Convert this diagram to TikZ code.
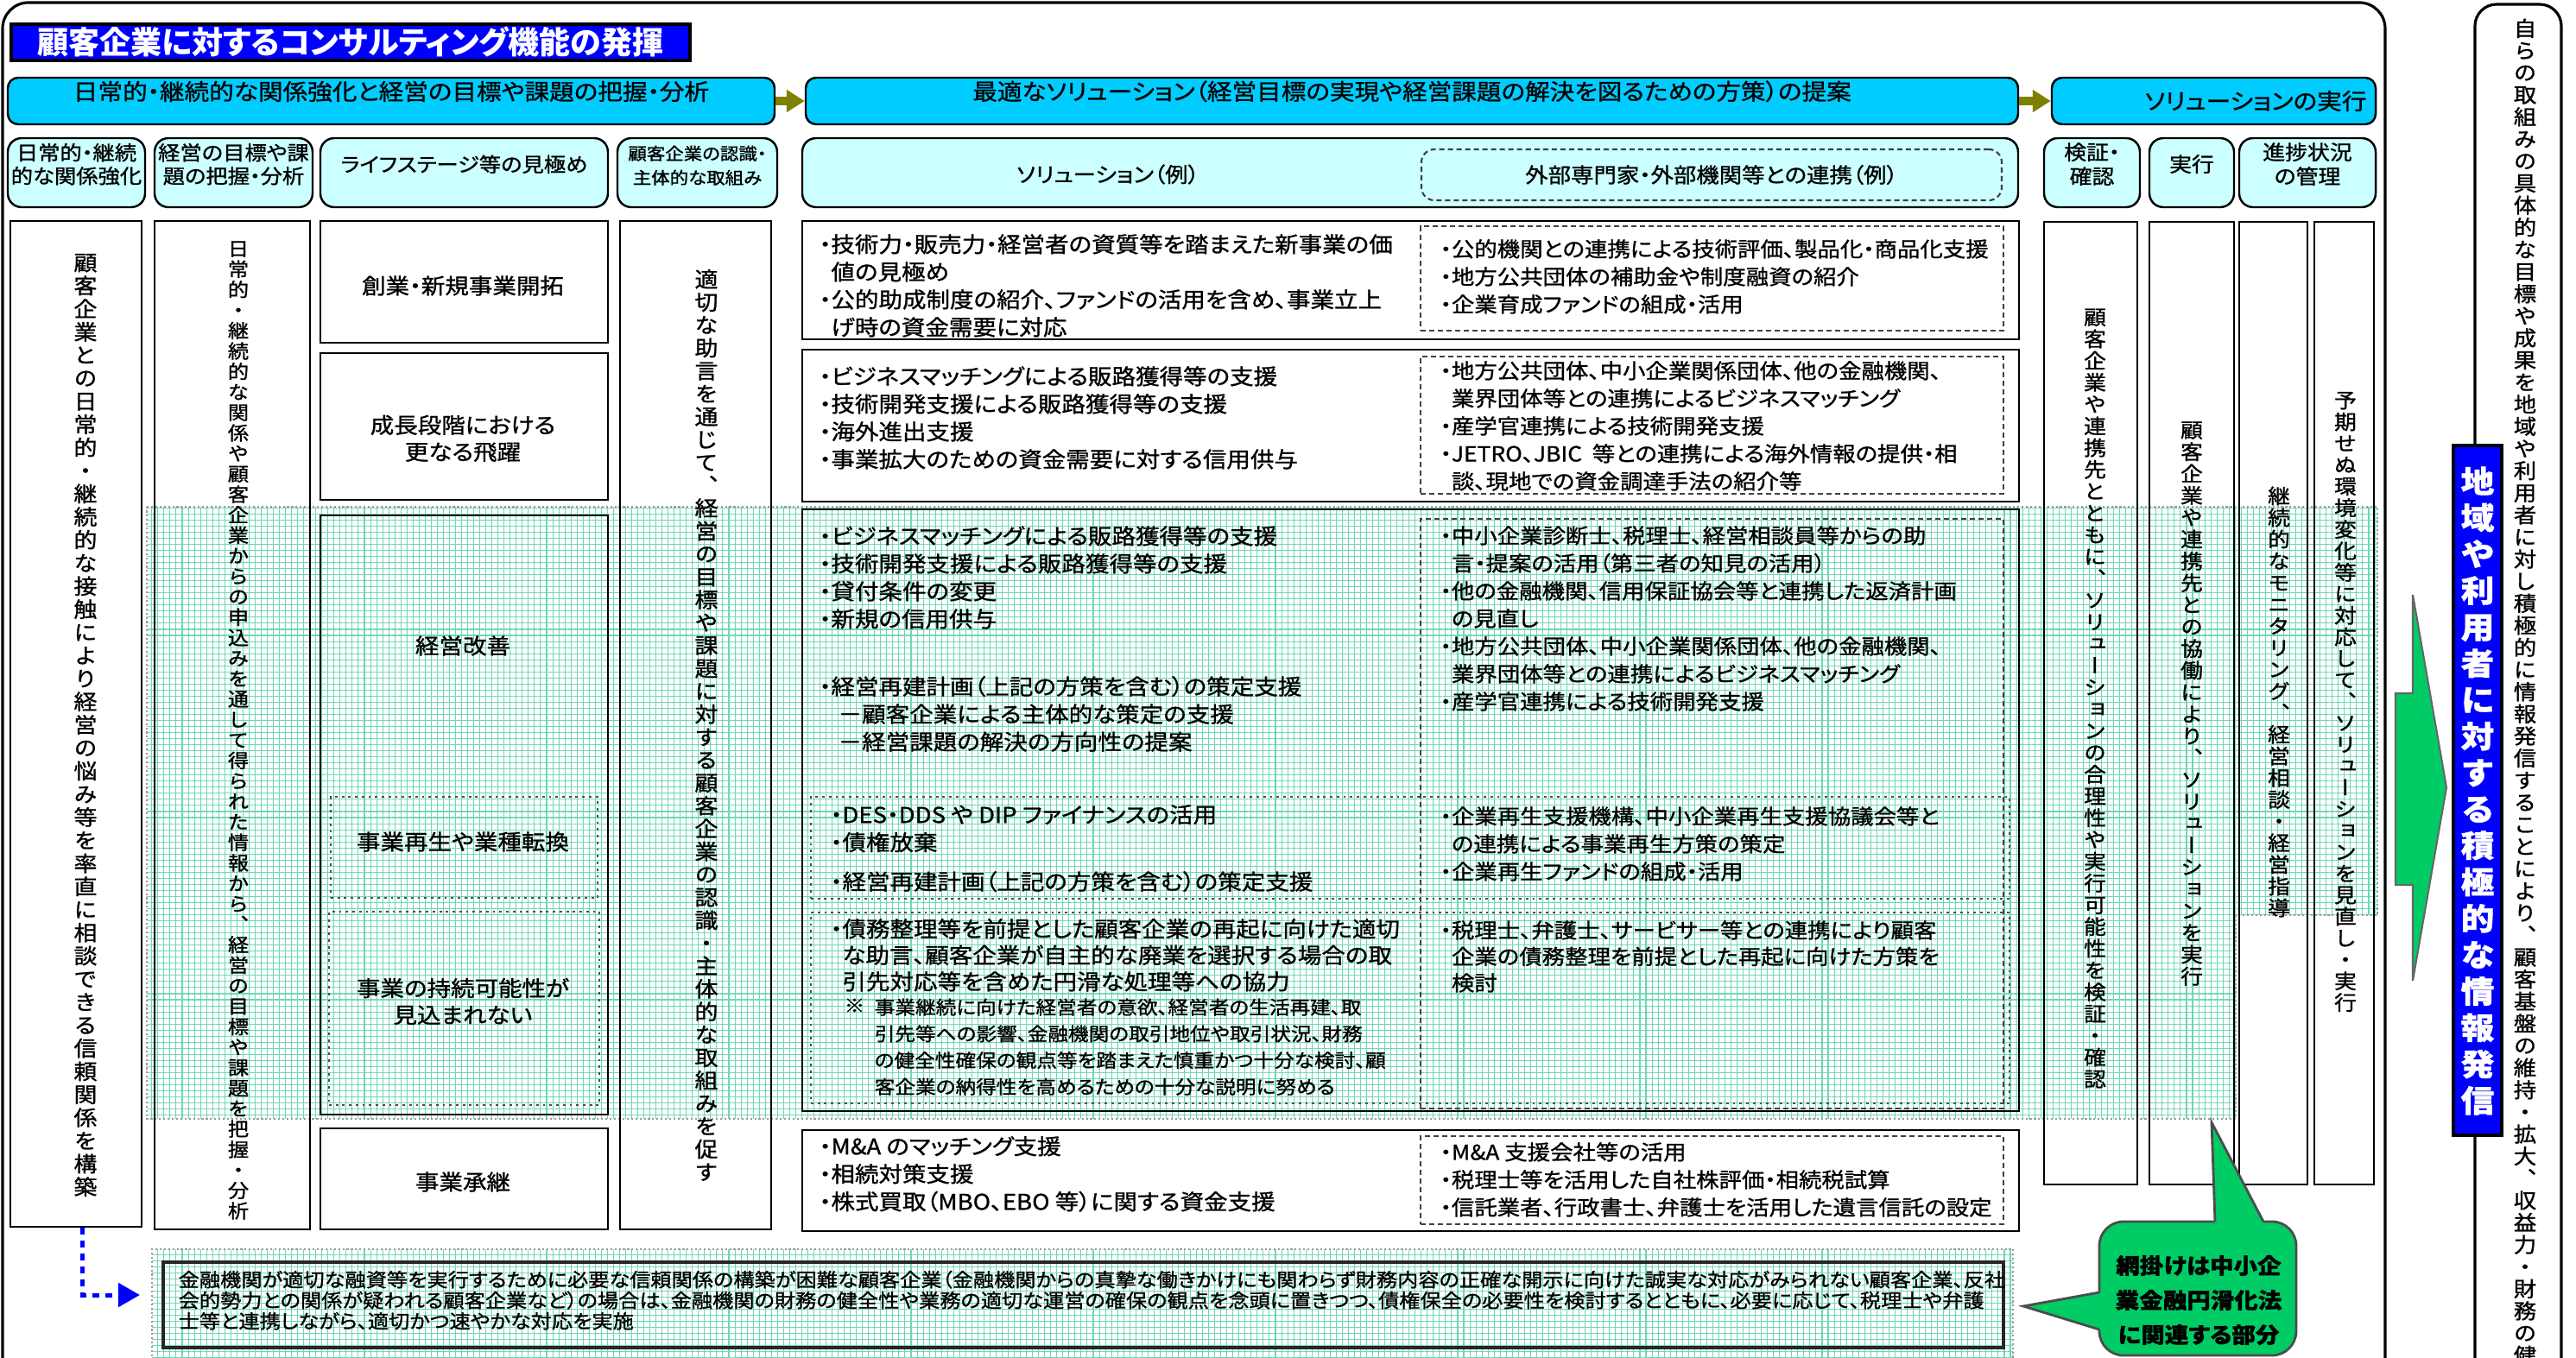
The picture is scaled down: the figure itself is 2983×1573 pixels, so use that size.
\documentclass[tikz,border=0pt]{standalone}
\usepackage{fontspec}
\setmainfont{Noto Sans CJK JP}[RawFeature=+palt,FakeStretch=1.1,FakeBold=1.1]
\newfontfamily\vjp{Noto Sans CJK JP}[RawFeature=+vert,FakeStretch=1.1,FakeBold=1.1]
\newfontfamily\tjp{Noto Sans CJK JP}[RawFeature=+palt]
\usetikzlibrary{arrows.meta,patterns.meta,fit}
\definecolor{cyanH}{RGB}{0,204,255}
\definecolor{cyanL}{RGB}{204,255,255}
\definecolor{blueT}{RGB}{0,0,255}
\definecolor{oliveA}{RGB}{128,128,0}
\definecolor{greenA}{RGB}{0,204,102}
\definecolor{hatchC}{RGB}{110,215,180}
\makeatletter
\def\vstk#1{\vstk@a#1\relax}
\def\vstk@a#1{#1\vstk@b}
\def\vstk@b#1{\ifx\relax#1\expandafter\@gobble\else\expandafter\@firstofone\fi{\\#1\vstk@b}}
\makeatother
\tikzset{
  bx/.style={draw=black, line width=0.8pt, inner sep=0pt},
  hdr/.style={draw=black, line width=0.7pt, fill=cyanH, rounded corners=0.12cm, inner sep=0pt, font={\fontsize{0.26cm}{0.3cm}\selectfont}},
  subh/.style={draw=black, line width=0.7pt, fill=cyanL, rounded corners=0.16cm, inner sep=0pt, align=center, font={\fontsize{0.23cm}{0.27cm}\selectfont}},
  dsh/.style={draw=black!75, line width=0.6pt, dash pattern=on 0.06cm off 0.04cm, inner sep=0pt},
  dtd/.style={draw=black!70, line width=0.6pt, dash pattern=on 0.8pt off 1.4pt, inner sep=0pt},
  txt/.style={inner sep=0pt, align=left, anchor=north west, font={\fontsize{0.25cm}{0.32cm}\selectfont}},
  txte/.style={inner sep=0pt, align=left, anchor=north west, font={\fontsize{0.24cm}{0.32cm}\selectfont}},
  txtb/.style={inner sep=0pt, align=left, anchor=north west, font={\fontsize{0.25cm}{0.305cm}\selectfont}},
  txtbe/.style={inner sep=0pt, align=left, anchor=north west, font={\fontsize{0.24cm}{0.305cm}\selectfont}},
  notet/.style={inner sep=0pt, align=left, anchor=north west, font={\fontsize{0.215cm}{0.307cm}\selectfont}},
  lbl/.style={inner sep=0pt, align=center, font={\fontsize{0.25cm}{0.31cm}\selectfont}},
  vt/.style 2 args={inner sep=0pt, align=center, font={\vjp\fontsize{#1}{#2}\selectfont\lineskiplimit=-10pt\lineskip=0pt}},
  hatchfill/.style={pattern={Hatch[distance=2pt,line width=0.3pt]}, pattern color=hatchC},
  olarr/.style={draw=oliveA, line width=0.1cm, -{Triangle[length=0.21cm,width=0.25cm]}},
  bluedsh/.style={draw=blue, line width=0.05cm, dash pattern=on 0.08cm off 0.07cm, -{Triangle[length=0.25cm,width=0.27cm]}},
}
\begin{document}
\begin{tikzpicture}[x=0.01cm,y=-0.01cm]
\useasboundingbox (0,0) rectangle (2983,1573);
\clip (0,0) rectangle (2983,1573);
\fill[white] (0,0) rectangle (2983,1573);

% hatched areas
\path[hatchfill] (170,587) -- (2753,587) -- (2753,1060) -- (2589,1060) -- (2589,1296) -- (170,1296) -- cycle;
\draw[black!40, line width=0.3pt, dash pattern=on 0.6pt off 0.8pt] (170,587) -- (2753,587) -- (2753,1060) -- (2589,1060) -- (2589,1296) -- (170,1296) -- cycle;
\path[hatchfill] (176,1447) rectangle (2331,1640);
\draw[black!40, line width=0.3pt, dash pattern=on 0.6pt off 0.8pt] (176,1640) -- (176,1447) -- (2331,1447) -- (2331,1640);

% outer frames
\draw[line width=0.9pt, rounded corners=0.3cm] (3,1650) -- (3,3) -- (2762,3) -- (2762,1650);
\draw[line width=0.9pt, rounded corners=0.25cm] (2866,1650) -- (2866,5) -- (2966,5) -- (2966,1650);

% title
\node[fill=blueT, draw=black, line width=1.2pt, inner sep=0pt, fit={(13,28)(799,70)}] (title) {};
\node[anchor=base, inner sep=0pt, text=white, font={\tjp\bfseries\fontsize{0.36cm}{0.4cm}\selectfont}] (titlet) at (406,62.5) {顧客企業に対するコンサルティング機能の発揮};

% headers
\node[hdr, fit={(9,90)(897,144)}] (h1) {日常的・継続的な関係強化と経営の目標や課題の把握・分析};
\node[hdr, fit={(933,90)(2337,144)}] (h2) {最適なソリューション（経営目標の実現や経営課題の解決を図るための方策）の提案};
\node[hdr, fit={(2376,90)(2751,144)}] (h3) {};
\node[inner sep=0pt, font={\fontsize{0.26cm}{0.3cm}\selectfont}] (h3t) at (2612,117) {ソリューションの実行};
\draw[olarr] (h1.east) -- (h2.west);
\draw[olarr] (h2.east) -- (h3.west);

% sub headers
\node[subh, fit={(9,160)(168,240)}] (sh1) {日常的・継続\\的な関係強化};
\node[subh, fit={(179,160)(362,240)}] (sh2) {経営の目標や課\\題の把握・分析};
\node[subh, fit={(371,160)(704,240)}] (sh3) {ライフステージ等の見極め};
\node[subh, fit={(715,160)(900,240)}, font={\fontsize{0.195cm}{0.28cm}\selectfont}] (sh4) {顧客企業の認識・\\主体的な取組み};
\node[subh, fit={(929,160)(2337,240)}] (sh5) {};
\node[dsh, rounded corners=0.15cm, fit={(1646,173)(2318,232)}] (sh5b) {};
\node[inner sep=0pt, font={\fontsize{0.24cm}{0.3cm}\selectfont}] (sh5t) at (1283,202) {ソリューション（例）};
\node[inner sep=0pt, font={\fontsize{0.24cm}{0.3cm}\selectfont}] (sh5bt) at (sh5b) {外部専門家・外部機関等との連携（例）};
\node[subh, fit={(2367,160)(2478,240)}, font={\fontsize{0.235cm}{0.28cm}\selectfont}] (sh6) {検証・\\確認};
\node[subh, fit={(2489,160)(2587,240)}, font={\fontsize{0.235cm}{0.28cm}\selectfont}] (sh7) {実行};
\node[subh, fit={(2593,160)(2751,240)}, font={\fontsize{0.235cm}{0.28cm}\selectfont}] (sh8) {進捗状況\\の管理};

% left columns
\node[bx, fit={(12,256)(164,1421)}] (colA) {};
\node[bx, fit={(179,256)(359,1424)}] (colB) {};
\node[bx, fit={(371,256)(704,397)}] (c1) {};
\node[bx, fit={(371,409)(704,579)}] (c2) {};
\node[bx, fit={(371,597)(704,1291)}] (c3) {};
\node[dtd, fit={(383,923)(692,1040)}] (c3a) {};
\node[dtd, fit={(381,1056)(694,1280)}] (c3b) {};
\node[bx, fit={(371,1307)(704,1424)}] (c4) {};
\node[bx, fit={(718,256)(893,1424)}] (colD) {};

\node[lbl] (c1t) at (536,331) {創業・新規事業開拓};
\node[lbl] (c2t) at (536,508) {成長段階における\\更なる飛躍};
\node[lbl] (c3t) at (536,748) {経営改善};
\node[lbl] (c3at) at (536,975) {事業再生や業種転換};
\node[lbl] (c3bt) at (536,1160) {事業の持続可能性が\\見込まれない};
\node[lbl] (c4t) at (536,1369) {事業承継};

\node[vt={0.245cm}{0.2675cm}] (colAt) at (99,840) {\vstk{顧客企業との日常的・継続的な接触により経営の悩み等を率直に相談できる信頼関係を構築}};
\node[vt={0.22cm}{0.237cm}] (colBt) at (276,846) {\vstk{日常的・継続的な関係や顧客企業からの申込みを通して得られた情報から、経営の目標や課題を把握・分析}};
\node[vt={0.245cm}{0.265cm}] (colDt) at (818,840) {\vstk{適切な助言を通じて、経営の目標や課題に対する顧客企業の認識・主体的な取組みを促す}};

% solution rows
\node[bx, fit={(929,256)(2338,393)}] (r1) {};
\node[dsh, fit={(1645,262)(2320,383)}] (r1e) {};
\node[bx, fit={(929,405)(2338,581)}] (r2) {};
\node[dsh, fit={(1645,413)(2320,572)}] (r2e) {};
\node[bx, fit={(929,590)(2338,1287)}] (r3) {};
\node[dsh, fit={(1645,601)(2320,1284)}] (r3e) {};
\node[dtd, fit={(939,923)(2327,1041)}] (r3b) {};
\node[dtd, fit={(939,1057)(2327,1278)}] (r3c) {};
\node[bx, fit={(929,1309)(2338,1426)}] (r4) {};
\node[dsh, fit={(1645,1316)(2320,1418)}] (r4e) {};

\node[txt] (s1) at (948,270.5) {・技術力・販売力・経営者の資質等を踏まえた新事業の価\\\phantom{・}値の見極め\\・公的助成制度の紹介、ファンドの活用を含め、事業立上\\\phantom{・}げ時の資金需要に対応};
\node[txte] (e1) at (1667,276.5) {・公的機関との連携による技術評価、製品化・商品化支援\\・地方公共団体の補助金や制度融資の紹介\\・企業育成ファンドの組成・活用};
\node[txt] (s2) at (948,423.5) {・ビジネスマッチングによる販路獲得等の支援\\・技術開発支援による販路獲得等の支援\\・海外進出支援\\・事業拡大のための資金需要に対する信用供与};
\node[txte] (e2) at (1667,417.5) {・地方公共団体、中小企業関係団体、他の金融機関、\\\phantom{・}業界団体等との連携によるビジネスマッチング\\・産学官連携による技術開発支援\\・JETRO、JBIC\ \ 等との連携による海外情報の提供・相\\\phantom{・}談、現地での資金調達手法の紹介等};
\node[txt] (s3) at (948,608.5) {・ビジネスマッチングによる販路獲得等の支援\\・技術開発支援による販路獲得等の支援\\・貸付条件の変更\\・新規の信用供与};
\node[txt] (s3x) at (948,782.5) {・経営再建計画（上記の方策を含む）の策定支援\\\kern0.22cm－顧客企業による主体的な策定の支援\\\kern0.22cm－経営課題の解決の方向性の提案};
\node[txte] (e3) at (1667,608.5) {・中小企業診断士、税理士、経営相談員等からの助\\\phantom{・}言・提案の活用（第三者の知見の活用）\\・他の金融機関、信用保証協会等と連携した返済計画\\\phantom{・}の見直し\\・地方公共団体、中小企業関係団体、他の金融機関、\\\phantom{・}業界団体等との連携によるビジネスマッチング\\・産学官連携による技術開発支援};
\node[txt] (s3b) at (961,931.5) {・DES・DDS や DIP ファイナンスの活用\\・債権放棄};
\node[txt] (s3bx) at (961,1008.5) {・経営再建計画（上記の方策を含む）の策定支援};
\node[txte] (e3b) at (1667,933.5) {・企業再生支援機構、中小企業再生支援協議会等と\\\phantom{・}の連携による事業再生方策の策定\\・企業再生ファンドの組成・活用};
\node[txtb] (s3c) at (961,1063.5) {・債務整理等を前提とした顧客企業の再起に向けた適切\\\phantom{・}な助言、顧客企業が自主的な廃業を選択する場合の取\\\phantom{・}引先対応等を含めた円滑な処理等への協力};
\node[notet] (nmark) at (977,1156) {※};
\node[notet] (note) at (1012,1156) {事業継続に向けた経営者の意欲、経営者の生活再建、取\\引先等への影響、金融機関の取引地位や取引状況、財務\\の健全性確保の観点等を踏まえた慎重かつ十分な検討、顧\\客企業の納得性を高めるための十分な説明に努める};
\node[txtbe] (e3c) at (1667,1065.5) {・税理士、弁護士、サービサー等との連携により顧客\\\phantom{・}企業の債務整理を前提とした再起に向けた方策を\\\phantom{・}検討};
\node[txt] (s4) at (948,1315.5) {・M\&A のマッチング支援\\・相続対策支援\\・株式買取（MBO、EBO 等）に関する資金支援};
\node[txte] (e4) at (1667,1322.5) {・M\&A 支援会社等の活用\\・税理士等を活用した自社株評価・相続税試算\\・信託業者、行政書士、弁護士を活用した遺言信託の設定};

% execution columns
\node[bx, fit={(2367,257)(2475,1372)}] (v1) {};
\node[bx, fit={(2489,257)(2587,1372)}] (v2) {};
\node[bx, fit={(2593,257)(2672,1372)}] (v3) {};
\node[bx, fit={(2680,257)(2749,1372)}] (v4) {};
\node[vt={0.235cm}{0.252cm}] (v1t) at (2426,809) {\vstk{顧客企業や連携先とともに、ソリューションの合理性や実行可能性を検証・確認}};
\node[vt={0.235cm}{0.253cm}] (v2t) at (2538,815) {\vstk{顧客企業や連携先との協働により、ソリューションを実行}};
\node[vt={0.235cm}{0.251cm}] (v3t) at (2639,813) {\vstk{継続的なモニタリング、経営相談・経営指導}};
\node[vt={0.235cm}{0.249cm}] (v4t) at (2716,813) {\vstk{予期せぬ環境変化等に対応して、ソリューションを見直し・実行}};

% bottom box
\node[draw=black!85, line width=1pt, inner sep=0pt, fit={(189,1462)(2320,1561)}] (bbox) {};
\node[inner sep=0pt, align=left, anchor=north west, font={\fontsize{0.22cm}{0.24cm}\selectfont}] (btxt) at (206,1471) {金融機関が適切な融資等を実行するために必要な信頼関係の構築が困難な顧客企業（金融機関からの真摯な働きかけにも関わらず財務内容の正確な開示に向けた誠実な対応がみられない顧客企業、反社\\会的勢力との関係が疑われる顧客企業など）の場合は、金融機関の財務の健全性や業務の適切な運営の確保の観点を念頭に置きつつ、債権保全の必要性を検討するとともに、必要に応じて、税理士や弁護\\士等と連携しながら、適切かつ速やかな対応を実施};
\coordinate (bend) at (162,1500);
\draw[bluedsh] ([xshift=0.07cm]colA.south) |- (bend);

% callout
\node[fill=greenA, draw=black!70, line width=0.8pt, rounded corners=0.28cm, inner sep=0pt, fit={(2431,1415)(2659,1570)}] (callout) {};
\fill[greenA] (2561,1300) -- (2621,1415) -- (2621,1421) -- (2565,1421) -- (2565,1415) -- cycle;
\draw[black!70, line width=0.8pt] (2565,1415) -- (2561,1300) -- (2621,1415);
\fill[greenA] (2343,1513) -- (2431,1497) -- (2437,1497) -- (2437,1540) -- (2431,1540) -- cycle;
\draw[black!70, line width=0.8pt] (2431,1497) -- (2343,1513) -- (2431,1540);
\node[inner sep=0pt, align=center, font={\bfseries\fontsize{0.25cm}{0.4cm}\selectfont}] (cot) at (2546,1506) {網掛けは中小企\\業金融円滑化法\\に関連する部分};

% right side
\fill[greenA, draw=black!60, line width=0.6pt] (2774,803) -- (2794,803) -- (2794,689) -- (2833,912) -- (2794,1136) -- (2794,1025) -- (2774,1025) -- cycle;
\node[fill=blueT, draw=black, line width=0.9pt, inner sep=0pt, fit={(2841,516)(2897,1315)}] (blue) {};
\node[vt={0.30cm}{0.357cm}, text=white, font={\bfseries}] (bluet) at (2869,916) {\vstk{地域や利用者に対する積極的な情報発信}};
\node[vt={0.24cm}{0.256cm}, anchor=north] (frt) at (2924,21) {\vstk{自らの取組みの具体的な目標や成果を地域や利用者に対し積極的に情報発信することにより、顧客基盤の維持・拡大、収益力・財務の健}};
\end{tikzpicture}
\end{document}
